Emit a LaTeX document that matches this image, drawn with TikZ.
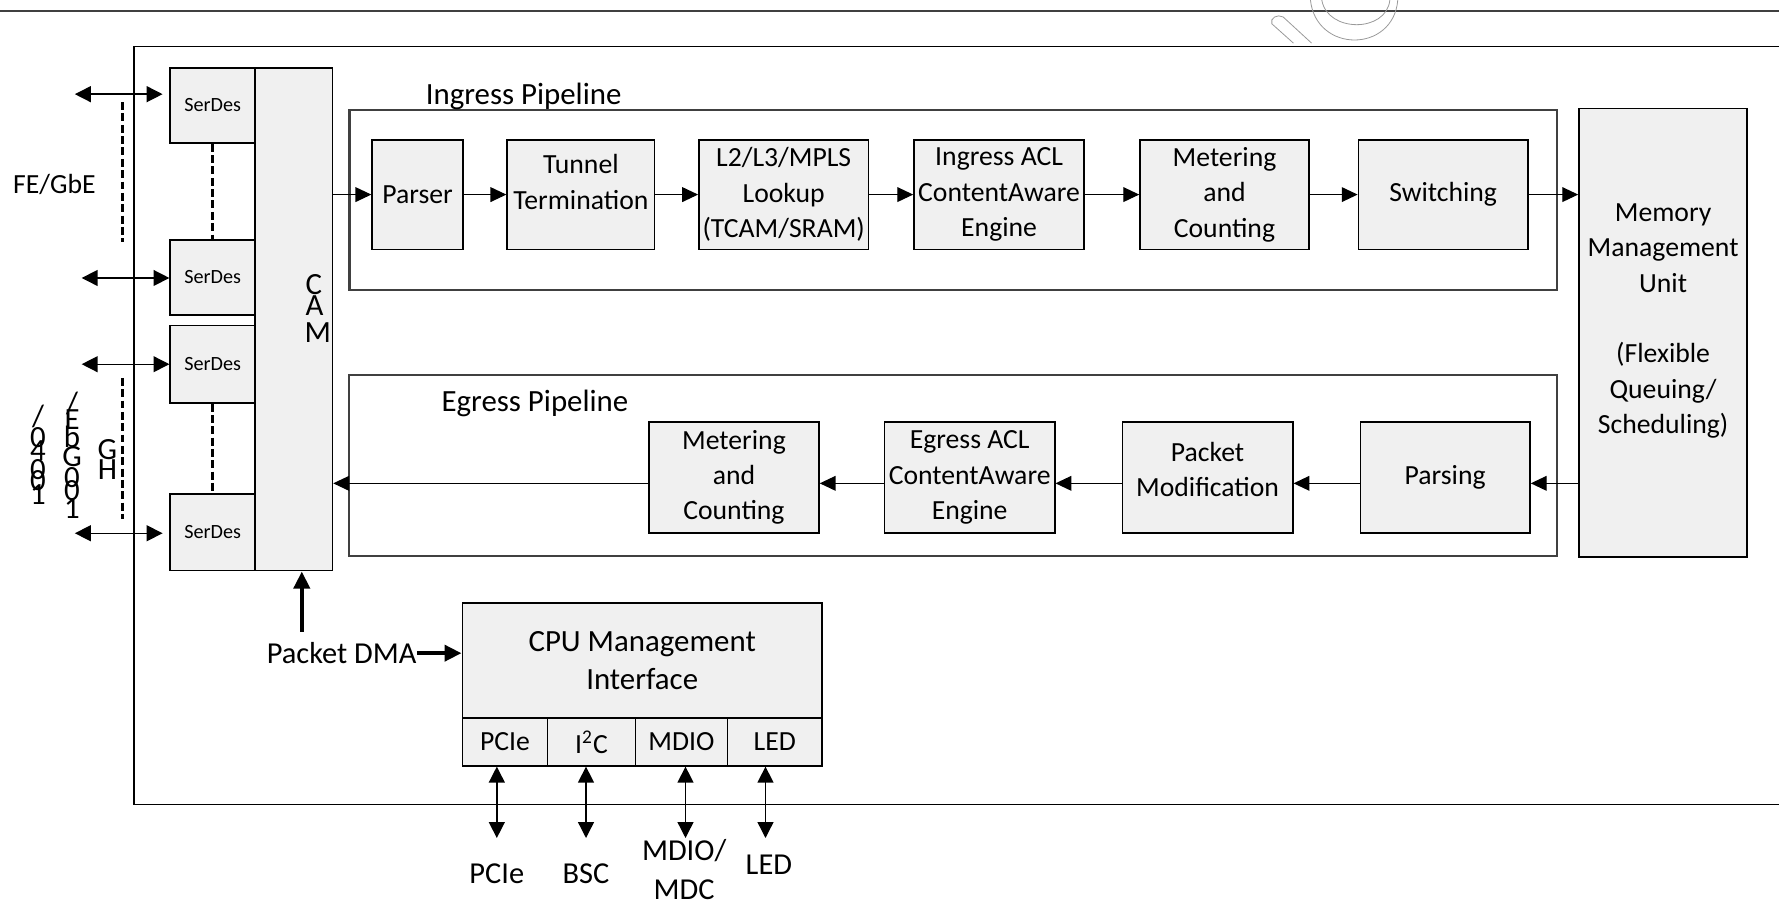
\documentclass[tikz,border=0pt]{standalone}
\usepackage{fontspec}
\setmainfont{Carlito}
\usetikzlibrary{arrows.meta}
\newcommand{\fA}{\fontsize{12.2}{15.6}\selectfont}
\newcommand{\fB}{\fontsize{13.6}{17}\selectfont}
\newcommand{\fG}{\fontsize{13.6}{15}\selectfont}
\newcommand{\fS}{\fontsize{8.9}{10}\selectfont}
\newcommand{\fL}{\fontsize{13.4}{17.2}\selectfont}
\newcommand{\upbox}[2]{\raisebox{#1}[\height][\depth]{\begin{tabular}{@{}c@{}}#2\end{tabular}}}
\begin{document}
\begin{tikzpicture}[x=0.5pt,y=-0.5pt,
 blk/.style={draw=black, line width=0.7pt, fill=black!6, align=center, inner sep=0pt, font=\fA, text=black},
 pipe/.style={draw=black!75, line width=1pt, inner sep=0pt},
 arr/.style={-{Triangle[length=7pt,width=6.5pt]}, line width=0.55pt},
 darr/.style={{Triangle[length=7pt,width=7pt]}-{Triangle[length=7pt,width=7pt]}, line width=0.6pt},
 tarr/.style={-{Triangle[length=7.5pt,width=7pt]}, line width=1.8pt},
 dline/.style={line width=1.3pt, dash pattern=on 3.5pt off 1.5pt},
 lbl/.style={inner sep=0pt, font=\fA, align=center},
 glyph/.style={inner sep=0pt, font=\fG},
 wm/.style={draw=black!40, line width=0.35pt}
]
\useasboundingbox (0,0) rectangle (1568,798);

% frame lines
\draw[line width=1pt, black!75] (0,10) -- (1568,10);
\draw[line width=0.7pt] (1568,41) -- (118,41) -- (118,709) -- (1568,709);

% watermark
\draw[wm] (1140,38) -- (1121,21) .. controls (1119,16) and (1126,12) .. (1131,15) -- (1156,38);
\draw[wm] (1155,0) .. controls (1160,47) and (1228,47) .. (1232,0);
\draw[wm] (1165,0) .. controls (1170,29) and (1222,29) .. (1225,0);

% pipelines
\node[pipe, minimum width=532pt, minimum height=79.3pt] (ing) at (840,176.3) {};
\node[pipe, minimum width=532.4pt, minimum height=79.75pt] (egr) at (840,410.25) {};
\node[lbl, font=\fB] (inglbl) at (461.5,85) {Ingress Pipeline};
\node[lbl, font=\fB] (egrlbl) at (471.5,355.5) {Egress Pipeline};

% ingress blocks
\node[blk, minimum width=40pt, minimum height=48.3pt] (parser) at (368,171.5) {Parser};
\node[blk, minimum width=65pt, minimum height=48.3pt] (tunnel) at (512,171.5) {\upbox{4.5pt}{Tunnel\\Termination}};
\node[blk, minimum width=74.75pt, minimum height=48.3pt] (lookup) at (690.75,171.5) {L2/L3/MPLS\\Lookup\\(TCAM/SRAM)};
\node[blk, minimum width=75pt, minimum height=48.3pt] (iacl) at (880.6,171.5) {Ingress ACL\\ContentAware\\Engine};
\node[blk, minimum width=74.45pt, minimum height=48.3pt] (imeter) at (1079.25,171.5) {Metering\\and\\Counting};
\node[blk, minimum width=74.7pt, minimum height=48.3pt] (switch) at (1272,171.5) {Switching};

% MMU
\node[blk, minimum width=74.15pt, minimum height=197.75pt] (mmu) at (1465.85,293.25) {};
\node[lbl] (mmutxt) at (1465.85,283) {Memory\\Management\\Unit\\[15.6pt](Flexible\\Queuing/\\Scheduling)};

% egress blocks
\node[blk, minimum width=74.9pt, minimum height=48.8pt] (emeter) at (646.9,420.8) {Metering\\and\\Counting};
\node[blk, minimum width=74.95pt, minimum height=48.8pt] (eacl) at (854.65,420.8) {Egress ACL\\ContentAware\\Engine};
\node[blk, minimum width=75.05pt, minimum height=48.8pt] (pmod) at (1064.35,420.8) {\upbox{2.5pt}{Packet\\Modification}};
\node[blk, minimum width=74.75pt, minimum height=48.8pt] (parsing) at (1273.75,420.8) {Parsing};

% CAM and SerDes
\node[blk, minimum width=34pt, minimum height=221.5pt] (cam) at (259,281.5) {};
\node[glyph, anchor=west] (camc) at (269,251) {C};
\node[glyph, anchor=west] (cama) at (269,269) {A};
\node[glyph, anchor=west] (camm) at (268,293) {M};
\node[blk, font=\fS, minimum width=37.5pt, minimum height=33pt] (s1) at (187.5,93) {SerDes};
\node[blk, font=\fS, minimum width=37.5pt, minimum height=33pt] (s2) at (187.5,244.5) {SerDes};
\node[blk, font=\fS, minimum width=37.5pt, minimum height=34pt] (s3) at (187.5,321) {SerDes};
\node[blk, font=\fS, minimum width=37.5pt, minimum height=33.75pt] (s4) at (187.5,469.25) {SerDes};

% CPU management
\node[blk, font=\fB, minimum width=158.5pt, minimum height=50.6pt] (cpu) at (566,582.2) {CPU Management\\Interface};
\node[blk, minimum width=37.6pt, minimum height=21.1pt] (cpcie) at (445.1,653.9) {PCIe};
\node[blk, minimum width=38.65pt, minimum height=21.1pt] (ci2c) at (521.35,653.9) {I\textsuperscript{2}C};
\node[blk, minimum width=40.65pt, minimum height=21.1pt] (cmdio) at (600.65,653.9) {MDIO};
\node[blk, minimum width=41.6pt, minimum height=21.1pt] (cled) at (682.9,653.9) {LED};

% left labels
\node[lbl] (fe) at (48,163) {FE/GbE};
\node[glyph] (g11) at (33.5,367) {/};
\node[glyph] (g12) at (33.5,386) {0};
\node[glyph] (g13) at (33.5,397) {4};
\node[glyph] (g14) at (33.5,414) {0};
\node[glyph] (g15) at (33.5,424) {0};
\node[glyph] (g16) at (33.5,436) {1};
\node[glyph] (g21) at (63.5,356) {/};
\node[glyph] (g22) at (63.5,370) {E};
\node[glyph] (g23) at (63.5,385) {b};
\node[glyph] (g24) at (63.5,402) {G};
\node[glyph] (g25) at (63.5,421) {0};
\node[glyph] (g26) at (63.5,432) {0};
\node[glyph] (g27) at (63.5,448) {1};
\node[glyph] (g31) at (94.7,396) {G};
\node[glyph] (g32) at (94.7,414) {H};

% bottom labels
\node[lbl, font=\fL] (pdma) at (301.1,575.7) {Packet DMA};
\node[lbl, font=\fL] (lpcie) at (437.9,769.7) {PCIe};
\node[lbl, font=\fL] (lbsc) at (516.5,769.7) {BSC};
\node[lbl, font=\fL] (lmdio) at (603,766.5) {MDIO/\\MDC};
\node[lbl, font=\fL] (lled) at (677.7,762.4) {LED};

% coordinates
\coordinate (a1) at (66,83);
\coordinate (a2) at (72,245);
\coordinate (a3) at (72,321);
\coordinate (a4) at (66,470);
\coordinate (d1a) at (108,90);
\coordinate (d1b) at (108,213);
\coordinate (d2a) at (108,333);
\coordinate (d2b) at (108,457);
\coordinate (b1) at (437.9,738.6);
\coordinate (b2) at (516.5,738.6);
\coordinate (b3) at (604.2,738.6);
\coordinate (b4) at (674.7,738.6);
\coordinate (dmab) at (266,556.7);
\coordinate (eg0) at ([yshift=-2.6pt]parsing.east);
\coordinate (eg1) at ([yshift=-2.6pt]emeter.west);

% SerDes connectors
\draw[darr, shorten >=3pt] (a1) -- (a1 -| s1.west);
\draw[darr] (a2) -- (a2 -| s2.west);
\draw[darr] (a3) -- (a3 -| s3.west);
\draw[darr, shorten >=3pt] (a4) -- (a4 -| s4.west);
\draw[dline] (s1.south) -- (s2.north);
\draw[dline] (s3.south) -- (s4.north);
\draw[dline] (d1a) -- (d1b);
\draw[dline] (d2a) -- (d2b);

% ingress flow
\draw[arr] (parser.west -| cam.east) -- (parser.west);
\draw[arr] (parser.east) -- (tunnel.west);
\draw[arr] (tunnel.east) -- (lookup.west);
\draw[arr] (lookup.east) -- (iacl.west);
\draw[arr] (iacl.east) -- (imeter.west);
\draw[arr] (imeter.east) -- (switch.west);
\draw[arr] (switch.east) -- (switch.east -| mmu.west);

% egress flow
\draw[arr] (eg0 -| mmu.west) -- (eg0);
\draw[arr] ([yshift=-2.6pt]parsing.west) -- ([yshift=-2.6pt]pmod.east);
\draw[arr] ([yshift=-2.6pt]pmod.west) -- ([yshift=-2.6pt]eacl.east);
\draw[arr] ([yshift=-2.6pt]eacl.west) -- ([yshift=-2.6pt]emeter.east);
\draw[arr] (eg1) -- (eg1 -| cam.east);

% DMA
\draw[tarr] (dmab) -- (dmab |- cam.south);
\draw[tarr] (pdma.east) -- (pdma.east -| cpu.west);

% CPU interfaces
\draw[darr] (cpcie.south -| b1) -- (b1);
\draw[darr] (ci2c.south -| b2) -- (b2);
\draw[darr] (cmdio.south -| b3) -- (b3);
\draw[darr] (cled.south -| b4) -- (b4);
\end{tikzpicture}
\end{document}
